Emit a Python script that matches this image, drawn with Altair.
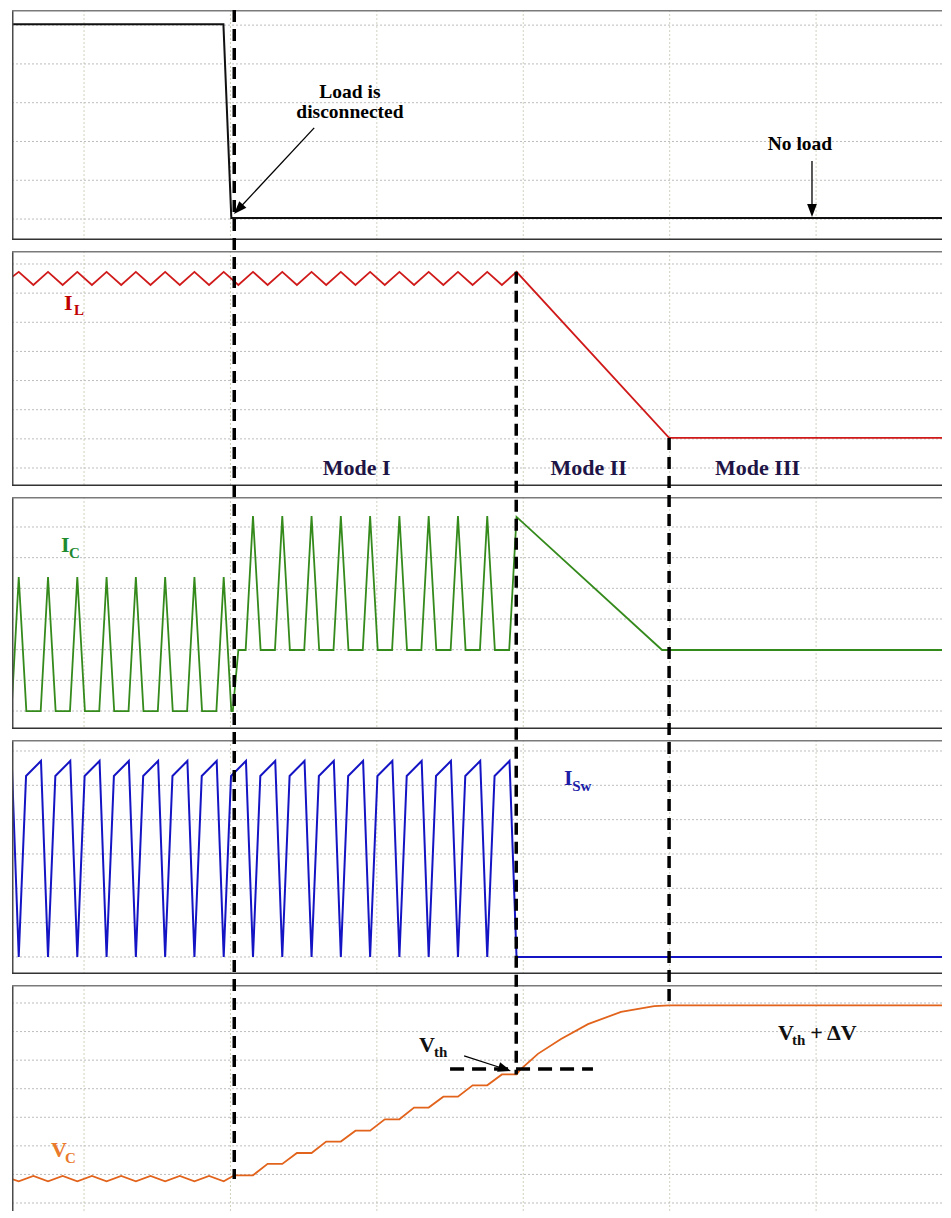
import math
import altair as alt
import pandas as pd

SERIF = "Liberation Serif"

# ---------------- data (time in switching periods, values in grid divisions) ----------------
GRID_T = [5, 10, 15, 20, 25, 30]

LOAD_T = [2.54, 9.76, 10.03, 34.40]
LOAD_V = [5.02, 5.02, 0.03, 0.03]

IL_T = [2.54, 2.77, 3.27, 3.77, 4.27, 4.77, 5.27, 5.77, 6.27, 6.77, 7.27, 7.77,
        8.27, 8.77, 9.27, 9.77, 10.27, 10.77, 11.27, 11.77, 12.27, 12.77, 13.27,
        13.77, 14.27, 14.77, 15.27, 15.77, 16.27, 16.77, 17.27, 17.77, 18.27,
        18.77, 19.27, 19.77, 24.98, 34.40]
IL_V = [6.55, 6.73, 6.28, 6.73, 6.28, 6.73, 6.28, 6.73, 6.28, 6.73, 6.28, 6.73,
        6.28, 6.73, 6.28, 6.73, 6.28, 6.73, 6.28, 6.73, 6.28, 6.73, 6.28,
        6.73, 6.28, 6.73, 6.28, 6.73, 6.28, 6.73, 6.28, 6.73, 6.28,
        6.73, 6.28, 6.73, 1.03, 1.03]

IC_T = [2.54, 2.77, 3.03,
        3.52, 3.77, 4.03,
        4.52, 4.77, 5.03,
        5.52, 5.77, 6.03,
        6.52, 6.77, 7.03,
        7.52, 7.77, 8.03,
        8.52, 8.77, 9.03,
        9.52, 9.77, 10.03,
        10.08, 10.27,
        10.52, 10.77, 11.03,
        11.52, 11.77, 12.03,
        12.52, 12.77, 13.03,
        13.52, 13.77, 14.03,
        14.52, 14.77, 15.03,
        15.52, 15.77, 16.03,
        16.52, 16.77, 17.03,
        17.52, 17.77, 18.03,
        18.52, 18.77, 19.03,
        19.52, 19.77, 24.74, 34.40]
IC_V = [0.30, 4.37, 0.00,
        0.00, 4.37, 0.00,
        0.00, 4.37, 0.00,
        0.00, 4.37, 0.00,
        0.00, 4.37, 0.00,
        0.00, 4.37, 0.00,
        0.00, 4.37, 0.00,
        0.00, 4.37, 0.00,
        0.00, 1.99,
        1.99, 6.36, 1.99,
        1.99, 6.36, 1.99,
        1.99, 6.36, 1.99,
        1.99, 6.36, 1.99,
        1.99, 6.36, 1.99,
        1.99, 6.36, 1.99,
        1.99, 6.36, 1.99,
        1.99, 6.36, 1.99,
        1.99, 6.36, 1.99,
        1.99, 6.33, 1.99, 1.99]

ISW_T = [2.53,
         2.77, 3.02, 3.53,
         3.77, 4.02, 4.53,
         4.77, 5.02, 5.53,
         5.77, 6.02, 6.53,
         6.77, 7.02, 7.53,
         7.77, 8.02, 8.53,
         8.77, 9.02, 9.53,
         9.77, 10.02, 10.53,
         10.77, 11.02, 11.53,
         11.77, 12.02, 12.53,
         12.77, 13.02, 13.53,
         13.77, 14.02, 14.53,
         14.77, 15.02, 15.53,
         15.77, 16.02, 16.53,
         16.77, 17.02, 17.53,
         17.77, 18.02, 18.53,
         18.77, 19.02, 19.53,
         19.77, 34.40]
ISW_V = [5.71,
         0.00, 5.27, 5.71,
         0.00, 5.27, 5.71,
         0.00, 5.27, 5.71,
         0.00, 5.27, 5.71,
         0.00, 5.27, 5.71,
         0.00, 5.27, 5.71,
         0.00, 5.27, 5.71,
         0.00, 5.27, 5.71,
         0.00, 5.27, 5.71,
         0.00, 5.27, 5.71,
         0.00, 5.27, 5.71,
         0.00, 5.27, 5.71,
         0.00, 5.27, 5.71,
         0.00, 5.27, 5.71,
         0.00, 5.27, 5.71,
         0.00, 5.27, 5.71,
         0.00, 5.27, 5.71,
         0.00, 0.00]

VC_T = [2.54, 2.77, 3.27, 3.77, 4.27, 4.77, 5.27, 5.77, 6.27, 6.77, 7.27, 7.77,
        8.27, 8.77, 9.27, 9.77, 10.13,
        10.77, 11.27, 11.77, 12.27, 12.77, 13.27, 13.77, 14.27, 14.77, 15.27,
        15.77, 16.27, 16.77, 17.27, 17.77, 18.27, 18.77, 19.27, 19.77,
        19.92, 20.50, 21.29, 22.21, 23.34, 24.47, 24.98, 34.40]
VC_V = [0.84, 0.76, 0.95, 0.76, 0.95, 0.76, 0.95, 0.76, 0.95, 0.76, 0.95, 0.76,
        0.95, 0.76, 0.95, 0.76, 0.97,
        0.97, 1.37, 1.37, 1.75, 1.75, 2.15, 2.15, 2.53, 2.53, 2.93,
        2.93, 3.34, 3.34, 3.72, 3.72, 4.12, 4.12, 4.50, 4.50,
        4.69, 5.22, 5.74, 6.26, 6.69, 6.89, 6.92, 6.92]

# event instants (dashed connectors): time, (start panel, start value), (end panel, end value)
CONN_T = [10.13, 19.76, 24.98]
CONN_START = [(0, None), (1, 6.73), (1, 1.03)]
CONN_END = [(4, 0.84), (4, 4.50), (4, 7.00)]

VTH_LEVEL = 4.69
VTH_T = [17.50, 22.38]

ANNOT_TEXT = ["Load is", "disconnected", "No load"]
ANNOT_T = [14.08, 14.08, 29.45]
ANNOT_V = [3.12, 2.61, 1.77]

MODE_TEXT = ["Mode I", "Mode II", "Mode III"]
MODE_T = [14.31, 22.23, 28.00]
MODE_V = [-0.24, -0.24, -0.24]

IL_LABEL = (["I", "L"], [4.32, 4.66], [5.42, 5.25])
IC_LABEL = (["I", "C"], [4.21, 4.49], [5.18, 4.99])
ISW_LABEL = (["I", "Sw"], [21.39, 21.67], [5.01, 4.84])
VC_LABEL = (["V", "C"], [3.87, 4.35], [1.61, 1.40])
VTH_LABEL = (["V", "th"], [16.44, 16.95], [5.29, 5.11])
VTHDV_LABEL = (["V", "th", "+ \u0394V"], [28.70, 29.18, 29.80], [5.71, 5.53, 5.71])

# arrows: (t0, v0) -> (t1, v1)
ARROW_LOAD = (12.86, 2.35, 10.12, 0.13)
ARROW_NOLOAD = (29.86, 1.50, 29.86, 0.05)
ARROW_VTH = (17.98, 5.15, 19.58, 4.62)

# ---------------- layout ----------------
W = 930
GAP = 11
XMIN, XMAX = 2.54, 34.30
PX_T = W / (XMAX - XMIN)

PANELS = [
    {"h": 230, "lo": -0.54, "hi": 5.39, "grid": [0, 1, 2, 3, 4, 5]},
    {"h": 235, "lo": -0.618, "hi": 7.446, "grid": [0, 1, 2, 3, 4, 5, 6, 7]},
    {"h": 232, "lo": -0.586, "hi": 6.978, "grid": [0, 1, 2, 3, 4, 5, 6]},
    {"h": 234, "lo": -0.496, "hi": 6.32, "grid": [0, 1, 2, 3, 4, 5, 6]},
    {"h": 226, "lo": -0.28, "hi": 7.63, "grid": [0, 1, 2, 3, 4, 5, 6, 7]},
]
_y = 8
for _p in PANELS:
    _p["top"] = _y
    _p["ppu"] = _p["h"] / (_p["hi"] - _p["lo"])
    _y += _p["h"] + GAP

DASH = [12, 7]
DASH_PERIOD = sum(DASH)
ARROW_PATH = "M0,-1L-0.75,1L0.75,1Z"

MAIN, SUB, ANN, MODE = 22, 15, 19.5, 22


def xscale():
    return alt.Scale(domain=[XMIN, XMAX], nice=False, zero=False)


def yscale(k):
    p = PANELS[k]
    return alt.Scale(domain=[p["lo"], p["hi"]], nice=False, zero=False)


def X(field="t"):
    return alt.X(f"{field}:Q", scale=xscale(), axis=None)


def Y(k, field="v"):
    return alt.Y(f"{field}:Q", scale=yscale(k), axis=None)


def pix(k, v):
    p = PANELS[k]
    return p["top"] + (p["hi"] - v) * p["ppu"]


def grid(k):
    vx = alt.Chart(pd.DataFrame({"t": GRID_T})).mark_rule(
        color="#cfd2c0", strokeWidth=1, strokeDash=[2, 2]
    ).encode(x=X())
    hy = alt.Chart(pd.DataFrame({"v": PANELS[k]["grid"]})).mark_rule(
        color="#bdbdbd", strokeWidth=1, strokeDash=[2, 2]
    ).encode(y=Y(k))
    return [vx, hy]


def signal(k, ts, vs, color, width):
    df = pd.DataFrame({"t": ts, "v": vs, "i": list(range(len(ts)))})
    return alt.Chart(df).mark_line(color=color, strokeWidth=width, clip=True).encode(
        x=X(), y=Y(k), order="i:Q"
    )


def borders(k, bottom=True):
    p = PANELS[k]
    left = alt.Chart(pd.DataFrame({"t": [XMIN]})).mark_rule(
        color="#4a4a4a", strokeWidth=3, clip=True
    ).encode(x=X())
    vals, cols = [p["hi"]], ["#7a7a7a"]
    if bottom:
        vals.append(p["lo"])
        cols.append("#333333")
    tb = alt.Chart(pd.DataFrame({"v": vals, "c": cols})).mark_rule(
        strokeWidth=3, clip=True
    ).encode(y=Y(k), color=alt.Color("c:N", scale=None))
    return [left, tb]


def connectors(k):
    layers = []
    for t, (ks, vs0), (ke, ve) in zip(CONN_T, CONN_START, CONN_END):
        if k < ks or k > ke:
            continue
        p = PANELS[k]
        v_origin = PANELS[ks]["hi"] if vs0 is None else vs0
        origin_px = pix(ks, v_origin)
        v_top = v_origin if k == ks else p["hi"] + GAP / p["ppu"]
        v_bot = ve if k == ke else p["lo"]
        off = (pix(k, v_top) - origin_px) % DASH_PERIOD
        df = pd.DataFrame({"t": [t], "v": [v_top], "v2": [v_bot]})
        layers.append(
            alt.Chart(df).mark_rule(
                color="black", strokeWidth=3.5, strokeDash=DASH, strokeDashOffset=off
            ).encode(x=X(), y=Y(k), y2="v2:Q")
        )
    return layers


def texts(k, labels, ts, vs, sizes, colors, align="left"):
    df = pd.DataFrame({"label": labels, "t": ts, "v": vs, "size": sizes, "color": colors})
    return alt.Chart(df).mark_text(
        font=SERIF, fontWeight="bold", align=align, baseline="alphabetic"
    ).encode(
        x=X(), y=Y(k),
        text="label:N",
        size=alt.Size("size:Q", scale=None),
        color=alt.Color("color:N", scale=None),
    )


def name_label(k, lab, color):
    labels, ts, vs = lab
    sizes = [MAIN if (i == 0 or labels[i].startswith("+")) else SUB for i in range(len(labels))]
    return texts(k, labels, ts, vs, sizes, [color] * len(labels))


def arrow(k, a, head=13):
    t0, v0, t1, v1 = a
    p = PANELS[k]
    dx = (t1 - t0) * PX_T
    dy = -(v1 - v0) * p["ppu"]
    L = math.hypot(dx, dy)
    ux, uy = dx / L, dy / L
    r = head / 2.0
    ct = t1 - ux * r / PX_T
    cv = v1 + uy * r / p["ppu"]
    ang = math.degrees(math.atan2(dx, -dy)) % 360
    shaft = alt.Chart(pd.DataFrame({"t": [t0], "v": [v0], "t2": [ct], "v2": [cv]})).mark_rule(
        color="black", strokeWidth=1.3
    ).encode(x=X(), y=Y(k), x2="t2:Q", y2="v2:Q")
    headm = alt.Chart(pd.DataFrame({"t": [ct], "v": [cv]})).mark_point(
        shape=ARROW_PATH, filled=True, size=head * head, angle=ang,
        color="black", opacity=1, strokeWidth=0
    ).encode(x=X(), y=Y(k))
    return [shaft, headm]


def panel(k, layers):
    return alt.layer(*(grid(k) + layers)).properties(width=W, height=PANELS[k]["h"])


# ---------------- panels ----------------
p1 = panel(0, [signal(0, LOAD_T, LOAD_V, "#111111", 2.0)] + borders(0) + connectors(0)
           + [texts(0, ANNOT_TEXT, ANNOT_T, ANNOT_V, [ANN] * 3, ["#000000"] * 3, align="center")]
           + arrow(0, ARROW_LOAD) + arrow(0, ARROW_NOLOAD))

p2 = panel(1, [signal(1, IL_T, IL_V, "#d01a1a", 1.8)] + borders(1) + connectors(1)
           + [name_label(1, IL_LABEL, "#c00000"),
              texts(1, MODE_TEXT, MODE_T, MODE_V, [MODE] * 3, ["#1e1446"] * 3, align="center")])

p3 = panel(2, [signal(2, IC_T, IC_V, "#358a1c", 1.8)] + borders(2) + connectors(2)
           + [name_label(2, IC_LABEL, "#1e8a30")])

p4 = panel(3, [signal(3, ISW_T, ISW_V, "#1414c4", 2.0)] + borders(3) + connectors(3)
           + [name_label(3, ISW_LABEL, "#1c1ca6")])

vth_line = alt.Chart(pd.DataFrame({"t": [VTH_T[0]], "t2": [VTH_T[1]], "v": [VTH_LEVEL]})).mark_rule(
    color="black", strokeWidth=3.5, strokeDash=[14, 8]
).encode(x=X(), x2="t2:Q", y=Y(4))

p5 = panel(4, [signal(4, VC_T, VC_V, "#e2631b", 1.8)] + borders(4, bottom=False) + connectors(4)
           + [vth_line, name_label(4, VC_LABEL, "#ea7a2c"),
              name_label(4, VTH_LABEL, "#111111"), name_label(4, VTHDV_LABEL, "#111111")]
           + arrow(4, ARROW_VTH))

chart = alt.vconcat(p1, p2, p3, p4, p5, spacing=GAP, bounds="flush").properties(
    padding={"left": 3, "top": 0, "right": 0, "bottom": 0}
).configure_view(stroke=None)

chart.save("out.html", embed_options={"renderer": "svg", "actions": False})
